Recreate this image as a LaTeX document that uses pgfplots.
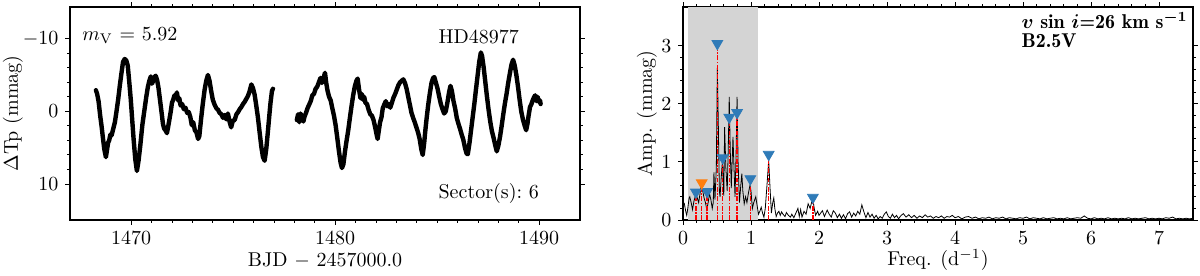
\documentclass[border=0pt]{standalone}
\usepackage{pgfplots}
\pgfplotsset{compat=1.18}
\definecolor{mplblue}{HTML}{2F7BB8}
\definecolor{mplorange}{HTML}{FF7F0E}
\definecolor{shade}{HTML}{D4D4D4}
\begin{document}
\begin{tikzpicture}
\useasboundingbox (0,0) rectangle (600pt,137.5pt);
\pgfplotsset{
  every axis/.append style={
    scale only axis, width=255pt, height=106.5pt,
    anchor=south west,
    tick align=outside,
    major tick length=2.3pt, minor tick length=1.3pt,
    every tick/.style={black, line width=0.5pt},
    axis line style={line width=0.6pt},
    tick label style={font=\fontsize{10}{12}\selectfont},
    label style={font=\fontsize{10}{12}\selectfont},
  }
}
% ---------- Light curve ----------
\begin{axis}[
  at={(35pt,27.5pt)},
  xmin=1467, xmax=1492, ymin=-14.35, ymax=14.95,
  y dir=reverse,
  xtick={1470,1480,1490}, minor x tick num=9,
  ytick={-10,0,10}, minor y tick num=4,
  xticklabel style={/pgf/number format/1000 sep={}},
  xlabel={BJD $-$ 2457000.0},
  ylabel={$\Delta$Tp (mmag)},
  xlabel style={at={(axis description cs:0.5,-0.188)}, anchor=center},
  ylabel style={at={(axis description cs:-0.112,0.5)}, anchor=center},
  clip=true,
]
\addplot[black, line width=2.2pt, line join=round, line cap=round] coordinates {
(1468.27,-2.9)(1468.33,-2.4)(1468.40,-1.4)(1468.48,0.6)(1468.55,2.1)(1468.62,3.8)(1468.68,5.2)(1468.76,6.3)
(1468.82,5.2)(1468.87,4.3)(1468.92,4.0)(1468.98,3.2)(1469.04,3.3)(1469.12,2.4)(1469.20,1.5)(1469.28,0.0)
(1469.36,-1.6)(1469.44,-3.5)(1469.52,-5.2)(1469.60,-6.8)(1469.68,-7.2)(1469.76,-7.0)(1469.83,-6.3)(1469.90,-4.2)
(1469.98,-1.6)(1470.05,1.2)(1470.12,3.9)(1470.20,6.6)(1470.28,8.2)(1470.36,6.8)(1470.45,4.6)(1470.55,1.8)
(1470.66,-0.4)(1470.74,-2.0)(1470.82,-3.4)(1470.90,-4.3)(1470.96,-4.8)(1471.02,-3.8)(1471.08,-4.2)(1471.14,-4.7)
(1471.20,-4.9)(1471.27,-4.3)(1471.34,-3.2)(1471.42,-1.4)(1471.50,0.4)(1471.56,1.8)(1471.62,2.4)(1471.68,2.6)
(1471.75,3.0)(1471.82,2.0)(1471.88,1.0)(1471.94,0.0)(1472.00,-1.2)(1472.06,-1.6)(1472.12,-2.2)(1472.18,-1.9)
(1472.24,-2.6)(1472.30,-1.5)(1472.36,-1.8)(1472.42,-0.8)(1472.50,-1.0)(1472.58,-0.3)(1472.66,-0.5)(1472.74,0.2)
(1472.82,0.1)(1472.90,0.8)(1472.97,1.9)(1473.04,1.5)(1473.12,2.6)(1473.20,2.9)(1473.28,3.8)(1473.34,3.4)
(1473.42,1.2)(1473.50,-0.8)(1473.60,-3.0)(1473.68,-4.2)(1473.76,-5.0)(1473.84,-4.2)(1473.92,-2.8)(1474.00,-1.6)
(1474.09,-0.9)(1474.18,-0.4)(1474.26,-0.2)(1474.33,0.2)(1474.42,0.4)(1474.50,0.9)(1474.58,0.5)(1474.66,1.1)
(1474.74,0.3)(1474.82,1.4)(1474.90,2.2)(1474.98,1.3)(1475.07,1.2)(1475.16,0.4)(1475.24,0.1)(1475.32,-0.3)
(1475.40,-0.6)(1475.48,-1.0)(1475.56,-1.3)(1475.64,-1.7)(1475.72,-2.1)(1475.80,-2.7)(1475.89,-3.7)(1475.97,-3.2)
(1476.05,-2.3)(1476.13,-0.8)(1476.21,0.8)(1476.30,3.0)(1476.38,4.9)(1476.46,6.3)(1476.54,6.8)(1476.62,5.2)
(1476.70,2.8)(1476.77,0.6)(1476.83,-1.2)(1476.90,-2.8)(1476.95,-3.1)
};
\addplot[black, line width=2.2pt, line join=round, line cap=round] coordinates {
(1478.12,1.2)(1478.18,0.4)(1478.24,1.5)(1478.30,0.3)(1478.37,0.8)(1478.44,1.4)(1478.50,0.7)(1478.57,0.2)
(1478.64,-0.4)(1478.72,-0.9)(1478.80,-1.4)(1478.88,-2.2)(1478.96,-2.4)(1479.04,-3.1)(1479.12,-3.4)(1479.20,-4.0)
(1479.28,-4.6)(1479.35,-3.9)(1479.42,-4.5)(1479.50,-5.3)(1479.56,-3.9)(1479.62,-2.9)(1479.70,-2.0)(1479.78,-1.5)
(1479.86,-0.4)(1479.94,0.6)(1480.02,1.9)(1480.10,3.6)(1480.18,5.4)(1480.26,7.0)(1480.33,7.8)(1480.40,7.3)
(1480.48,5.5)(1480.56,4.0)(1480.64,2.6)(1480.72,0.9)(1480.80,-0.7)(1480.88,-2.2)(1480.96,-3.4)(1481.04,-4.2)
(1481.10,-4.5)(1481.17,-3.0)(1481.24,-1.8)(1481.30,-2.4)(1481.36,-1.6)(1481.42,-2.0)(1481.48,-1.2)(1481.56,-1.0)
(1481.64,-0.2)(1481.72,0.4)(1481.80,0.6)(1481.88,1.2)(1481.96,2.2)(1482.03,3.2)(1482.08,3.8)(1482.14,2.6)
(1482.20,1.5)(1482.27,0.8)(1482.33,-0.4)(1482.40,-0.9)(1482.48,-1.4)(1482.55,-0.7)(1482.62,-1.0)(1482.70,-0.5)
(1482.78,-1.2)(1482.86,-1.9)(1482.94,-2.4)(1483.02,-3.0)(1483.10,-3.6)(1483.18,-4.0)(1483.26,-4.2)(1483.34,-4.4)
(1483.42,-3.9)(1483.50,-3.1)(1483.58,-2.0)(1483.66,-0.9)(1483.74,0.2)(1483.82,0.9)(1483.90,1.5)(1483.98,2.2)
(1484.06,2.9)(1484.14,3.8)(1484.22,5.2)(1484.29,6.0)(1484.36,4.4)(1484.42,2.6)(1484.48,1.0)(1484.56,-0.9)
(1484.64,-2.5)(1484.72,-3.9)(1484.80,-4.6)(1484.86,-4.7)(1484.94,-3.9)(1485.02,-3.1)(1485.10,-2.0)(1485.18,-1.0)
(1485.26,-0.3)(1485.34,0.3)(1485.42,0.0)(1485.50,-1.2)(1485.58,-2.6)(1485.65,-3.5)(1485.72,-2.8)(1485.80,-1.4)
(1485.88,-0.4)(1485.96,0.9)(1486.04,1.7)(1486.12,2.4)(1486.20,3.2)(1486.28,3.9)(1486.36,5.0)(1486.44,5.8)
(1486.50,5.9)(1486.58,4.4)(1486.66,2.6)(1486.74,0.8)(1486.82,-1.0)(1486.90,-3.0)(1486.98,-4.9)(1487.06,-6.8)
(1487.14,-8.1)(1487.20,-7.6)(1487.28,-6.0)(1487.36,-4.0)(1487.44,-2.0)(1487.52,-0.2)(1487.60,1.4)(1487.68,2.7)
(1487.76,3.6)(1487.84,4.6)(1487.92,5.5)(1488.00,4.7)(1488.08,3.5)(1488.16,2.0)(1488.24,0.4)(1488.32,-1.1)
(1488.40,-2.4)(1488.48,-3.9)(1488.56,-5.2)(1488.64,-6.4)(1488.72,-7.1)(1488.80,-6.3)(1488.88,-5.0)(1488.96,-3.4)
(1489.04,-1.6)(1489.12,0.0)(1489.20,1.1)(1489.28,1.9)(1489.36,2.6)(1489.42,1.8)(1489.48,0.6)(1489.55,-0.6)
(1489.62,-1.0)(1489.68,-1.5)(1489.74,-1.9)(1489.80,-2.2)(1489.86,-1.4)(1489.92,-2.0)(1489.98,-1.3)(1490.04,-1.5)
(1490.07,-1.0)
};
\node[anchor=base west, inner sep=0pt, font=\fontsize{10}{12}\selectfont]
  at (axis description cs:0.0235,0.845) {$m_{\mathrm{V}}$ = 5.92};
\node[anchor=base west, inner sep=0pt, font=\fontsize{10}{12}\selectfont]
  at (axis description cs:0.722,0.83) {HD48977};
\node[anchor=base west, inner sep=0pt, font=\fontsize{10}{12}\selectfont]
  at (axis description cs:0.722,0.103) {Sector(s):\ 6};
\end{axis}
% ---------- Periodogram ----------
\begin{axis}[
  at={(341.5pt,27.5pt)},
  xmin=0, xmax=7.5, ymin=0, ymax=3.67,
  xtick={0,1,2,3,4,5,6,7}, minor x tick num=4,
  ytick={0,1,2,3}, minor y tick num=4,
  xlabel={Freq. (d$^{-1}$)},
  ylabel={Amp. (mmag)},
  xlabel style={at={(axis description cs:0.5,-0.188)}, anchor=center},
  ylabel style={at={(axis description cs:-0.0706,0.5)}, anchor=center},
  clip=true,
]
\addplot[draw=none, fill=shade] coordinates {(0.07,3.67) (1.1,3.67)} \closedcycle;
\addplot[black, line width=0.4pt] coordinates {
(0,0.32)(0.02,0.28)(0.04,0.15)(0.055,0.08)(0.07,0.2)(0.09,0.38)(0.10,0.40)(0.12,0.3)
(0.14,0.18)(0.16,0.32)(0.19,0.45)(0.21,0.38)(0.23,0.3)(0.25,0.45)(0.27,0.62)(0.29,0.5)
(0.31,0.38)(0.33,0.3)(0.35,0.18)(0.37,0.3)(0.39,0.45)(0.41,0.35)(0.43,0.2)(0.445,0.3)
(0.455,0.82)(0.47,0.35)(0.49,0.9)(0.505,2.62)(0.52,1.6)(0.535,0.5)(0.545,0.4)(0.56,0.7)
(0.58,1.02)(0.595,0.5)(0.60,0.42)(0.612,1.6)(0.63,0.9)(0.65,0.5)(0.665,1.2)(0.68,2.12)
(0.695,1.2)(0.71,0.55)(0.735,1.43)(0.75,0.9)(0.765,0.4)(0.78,1.1)(0.795,2.12)(0.81,1.0)
(0.83,0.3)(0.85,0.6)(0.865,0.8)(0.88,0.5)(0.90,0.28)(0.92,0.4)(0.94,0.3)(0.96,0.45)
(0.985,0.6)(1.0,0.5)(1.02,0.2)(1.04,0.3)(1.07,0.4)(1.09,0.25)(1.11,0.1)(1.13,0.15)
(1.15,0.22)(1.17,0.12)(1.19,0.05)(1.21,0.2)(1.235,0.6)(1.26,1.03)(1.28,0.55)(1.30,0.12)
(1.32,0.3)(1.335,0.38)(1.35,0.2)(1.37,0.06)(1.39,0.12)(1.41,0.15)(1.43,0.08)(1.45,0.14)
(1.47,0.1)(1.50,0.06)(1.52,0.13)(1.55,0.08)(1.58,0.05)(1.60,0.1)(1.63,0.04)(1.66,0.12)
(1.69,0.2)(1.71,0.06)(1.73,0.18)(1.75,0.05)(1.78,0.15)(1.81,0.1)(1.84,0.28)(1.87,0.2)
(1.89,0.3)(1.91,0.35)(1.93,0.2)(1.95,0.08)(1.98,0.15)(2.0,0.08)
(2.05,0.16)(2.08,0.06)(2.12,0.17)(2.15,0.1)(2.18,0.05)(2.21,0.16)(2.24,0.12)(2.27,0.04)
(2.30,0.1)(2.33,0.03)(2.36,0.09)(2.39,0.02)(2.42,0.11)(2.45,0.14)(2.48,0.05)(2.51,0.12)
(2.54,0.07)(2.57,0.15)(2.60,0.1)(2.63,0.26)(2.66,0.14)(2.69,0.04)(2.72,0.13)(2.75,0.05)
(2.78,0.1)(2.81,0.03)(2.84,0.08)(2.87,0.02)(2.90,0.06)(2.93,0.03)(2.96,0.1)(2.99,0.14)
(3.02,0.06)(3.05,0.03)(3.08,0.1)(3.11,0.04)(3.14,0.08)(3.17,0.02)(3.20,0.07)(3.24,0.11)
(3.28,0.05)(3.32,0.09)(3.36,0.04)(3.40,0.08)(3.44,0.03)(3.48,0.07)(3.52,0.04)(3.56,0.09)
(3.60,0.05)(3.64,0.07)(3.68,0.03)(3.72,0.06)(3.76,0.04)(3.80,0.07)(3.84,0.03)(3.88,0.06)
(3.92,0.05)(3.96,0.08)(4.00,0.04)(4.05,0.06)(4.10,0.02)(4.15,0.05)(4.20,0.06)(4.25,0.03)
(4.30,0.05)(4.35,0.02)(4.40,0.04)(4.45,0.03)(4.50,0.05)(4.55,0.02)(4.60,0.04)(4.65,0.03)
(4.70,0.05)(4.75,0.02)(4.80,0.04)(4.85,0.03)(4.90,0.02)(4.95,0.04)(5.00,0.03)(5.05,0.05)
(5.10,0.02)(5.15,0.04)(5.20,0.03)(5.25,0.02)(5.30,0.04)(5.35,0.02)(5.40,0.03)(5.45,0.04)
(5.50,0.02)(5.55,0.03)(5.60,0.02)(5.65,0.04)(5.70,0.02)(5.75,0.03)(5.80,0.04)(5.85,0.03)
(5.90,0.07)(5.95,0.03)(6.00,0.02)(6.05,0.04)(6.10,0.02)(6.15,0.03)(6.20,0.02)(6.25,0.04)
(6.30,0.02)(6.35,0.03)(6.40,0.02)(6.45,0.03)(6.50,0.02)(6.55,0.04)(6.60,0.02)(6.65,0.03)
(6.70,0.02)(6.75,0.03)(6.80,0.04)(6.85,0.02)(6.90,0.03)(6.95,0.02)(7.00,0.03)(7.05,0.02)
(7.10,0.04)(7.15,0.03)(7.20,0.05)(7.25,0.02)(7.30,0.03)(7.35,0.02)(7.40,0.03)(7.45,0.02)
(7.50,0.03)
};
\addplot[ycomb, red, line width=0.7pt, dash pattern=on 2.4pt off 0.8pt on 0.7pt off 0.8pt, mark=none] coordinates {
(0.19,0.48)(0.275,0.64)(0.355,0.49)(0.505,3.04)(0.585,1.07)(0.68,1.77)(0.795,1.85)(0.99,0.71)(1.26,1.13)(1.91,0.39)
};
\addplot[only marks, mark=triangle*, mark size=3.1pt,
  mark options={rotate=180, fill=mplblue, draw=mplblue}] coordinates {
(0.19,0.48)(0.355,0.49)(0.505,3.04)(0.585,1.07)(0.68,1.77)(0.795,1.85)(0.99,0.71)(1.26,1.13)(1.91,0.39)
};
\addplot[only marks, mark=triangle*, mark size=3.1pt,
  mark options={rotate=180, fill=mplorange, draw=mplorange}] coordinates {
(0.275,0.64)
};
\node[anchor=base west, inner sep=0pt, font=\fontsize{10}{12}\fontseries{b}\selectfont\boldmath]
  at (axis description cs:0.663,0.90) {$v$ sin $i$=26 km s$^{-1}$};
\node[anchor=base west, inner sep=0pt, font=\fontsize{10}{12}\fontseries{b}\selectfont]
  at (axis description cs:0.663,0.812) {B2.5V};
\end{axis}
\end{tikzpicture}
\end{document}
